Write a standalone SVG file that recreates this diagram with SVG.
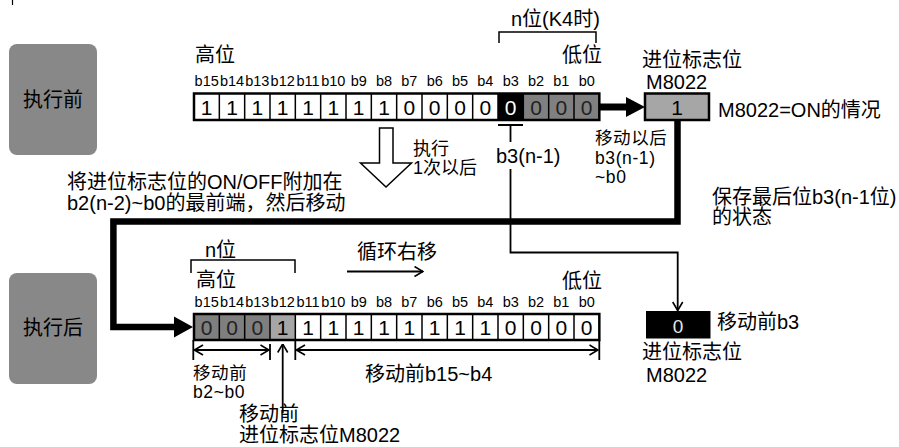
<svg xmlns="http://www.w3.org/2000/svg" width="899" height="447" viewBox="0 0 899 447">
<style>
.t{font-family:"Liberation Sans","Noto Sans CJK SC",sans-serif;font-size:20px;fill:#000}
.s{font-size:18px}
.k{font-size:17.5px;letter-spacing:0.6px}
.m{text-anchor:middle}
.b{font-family:"Liberation Sans",sans-serif;font-size:14.5px;text-anchor:middle;fill:#000}
.d{font-family:"Liberation Sans",sans-serif;font-size:21px;text-anchor:middle;fill:#000}
.reg{fill:none;stroke:#000;stroke-width:2.5}
.div{stroke:#000;stroke-width:1.5}
.thin{fill:none;stroke:#000;stroke-width:1.8}
.thick{fill:none;stroke:#000;stroke-width:6.5}
.state{fill:#888888}
</style>
<defs>
<marker id="oa" viewBox="0 0 10 12" refX="9.5" refY="6" markerWidth="10" markerHeight="12" markerUnits="userSpaceOnUse" orient="auto-start-reverse">
<path d="M1,1 L9.5,6 L1,11" fill="none" stroke="#000" stroke-width="1.6"/>
</marker>
</defs>
<line x1="12.5" y1="0" x2="12.5" y2="5" stroke="#000" stroke-width="1.2"/>

<g id="before-label">
<rect class="state" x="9" y="44" width="88" height="111" rx="8"/>
<text class="t m" x="53" y="107">执行前</text>
</g>
<g id="after-label">
<rect class="state" x="9" y="273" width="88" height="111" rx="8"/>
<text class="t m" x="53" y="335">执行后</text>
</g>

<g id="register-before">
<text class="t" x="511" y="26">n位(K4时)</text>
<path class="div" fill="none" stroke-width="2" d="M499,43 V32 H596 V43"/>
<text class="t" x="195" y="62">高位</text>
<text class="t" x="562" y="62">低位</text>
<g>
<text class="b" x="206.7" y="86">b15</text><text class="b" x="232" y="86">b14</text><text class="b" x="257.3" y="86">b13</text><text class="b" x="282.7" y="86">b12</text>
<text class="b" x="308" y="86">b11</text><text class="b" x="333.3" y="86">b10</text><text class="b" x="358.7" y="86">b9</text><text class="b" x="384" y="86">b8</text>
<text class="b" x="409.3" y="86">b7</text><text class="b" x="434.7" y="86">b6</text><text class="b" x="460" y="86">b5</text><text class="b" x="485.3" y="86">b4</text>
<text class="b" x="510.7" y="86">b3</text><text class="b" x="536" y="86">b2</text><text class="b" x="561.3" y="86">b1</text><text class="b" x="586.7" y="86">b0</text>
</g>
<rect x="498" y="93.5" width="25.33" height="26.5" fill="#000"/>
<rect x="523.33" y="93.5" width="76" height="26.5" fill="#808080"/>
<g class="div">
<line x1="219.33" y1="93.5" x2="219.33" y2="120"/><line x1="244.67" y1="93.5" x2="244.67" y2="120"/><line x1="270" y1="93.5" x2="270" y2="120"/><line x1="295.33" y1="93.5" x2="295.33" y2="120"/>
<line x1="320.67" y1="93.5" x2="320.67" y2="120"/><line x1="346" y1="93.5" x2="346" y2="120"/><line x1="371.33" y1="93.5" x2="371.33" y2="120"/><line x1="396.67" y1="93.5" x2="396.67" y2="120"/>
<line x1="422" y1="93.5" x2="422" y2="120"/><line x1="447.33" y1="93.5" x2="447.33" y2="120"/><line x1="472.67" y1="93.5" x2="472.67" y2="120"/><line x1="498" y1="93.5" x2="498" y2="120"/>
<line x1="523.33" y1="93.5" x2="523.33" y2="120"/><line x1="548.67" y1="93.5" x2="548.67" y2="120"/><line x1="574" y1="93.5" x2="574" y2="120"/>
</g>
<rect class="reg" x="194" y="93.5" width="405.33" height="26.5"/>
<g>
<text class="d" x="206.7" y="114.5">1</text><text class="d" x="232" y="114.5">1</text><text class="d" x="257.3" y="114.5">1</text><text class="d" x="282.7" y="114.5">1</text>
<text class="d" x="308" y="114.5">1</text><text class="d" x="333.3" y="114.5">1</text><text class="d" x="358.7" y="114.5">1</text><text class="d" x="384" y="114.5">1</text>
<text class="d" x="409.3" y="114.5">0</text><text class="d" x="434.7" y="114.5">0</text><text class="d" x="460" y="114.5">0</text><text class="d" x="485.3" y="114.5">0</text>
<text class="d" x="510.7" y="114.5" style="fill:#fff">0</text><text class="d" x="536" y="114.5" style="fill:#222">0</text><text class="d" x="561.3" y="114.5" style="fill:#222">0</text><text class="d" x="586.7" y="114.5" style="fill:#222">0</text>
</g>
</g>

<g id="carry-before">
<text class="t" x="642" y="67">进位标志位</text>
<text class="t" x="646" y="89">M8022</text>
<rect x="645" y="93.5" width="64" height="26.5" fill="#a6a6a6" stroke="#000" stroke-width="2.5"/>
<text class="d" x="677" y="114.5">1</text>
<text class="t" x="718" y="117">M8022=ON的情况</text>
</g>

<g id="notes">
<text class="t k" x="595" y="144">移动以后</text>
<text class="t k" x="595" y="164">b3(n-1)</text>
<text class="t k" x="595" y="183">~b0</text>
<text class="t" x="496" y="163">b3(n-1)</text>
<text class="t s" x="413" y="155">执行</text>
<text class="t s" x="413" y="174">1次以后</text>
<text class="t" x="67" y="189">将进位标志位的ON/OFF附加在</text>
<text class="t" x="67" y="210">b2(n-2)~b0的最前端，然后移动</text>
<text class="t" x="712" y="204">保存最后位b3(n-1位)</text>
<text class="t" x="712" y="224">的状态</text>
</g>

<g id="register-after">
<text class="t" x="205" y="257">n位</text>
<path class="div" fill="none" stroke-width="2" d="M191,273 V260 H295 V273"/>
<text class="t" x="357" y="259">循环右移</text>
<text class="t" x="196" y="287">高位</text>
<text class="t" x="562" y="288">低位</text>
<g>
<text class="b" x="206.7" y="307">b15</text><text class="b" x="232" y="307">b14</text><text class="b" x="257.3" y="307">b13</text><text class="b" x="282.7" y="307">b12</text>
<text class="b" x="308" y="307">b11</text><text class="b" x="333.3" y="307">b10</text><text class="b" x="358.7" y="307">b9</text><text class="b" x="384" y="307">b8</text>
<text class="b" x="409.3" y="307">b7</text><text class="b" x="434.7" y="307">b6</text><text class="b" x="460" y="307">b5</text><text class="b" x="485.3" y="307">b4</text>
<text class="b" x="510.7" y="307">b3</text><text class="b" x="536" y="307">b2</text><text class="b" x="561.3" y="307">b1</text><text class="b" x="586.7" y="307">b0</text>
</g>
<rect x="194" y="314" width="76" height="26" fill="#7f7f7f"/>
<rect x="270" y="314" width="25.33" height="26" fill="#a6a6a6"/>
<g class="div">
<line x1="219.33" y1="314" x2="219.33" y2="340"/><line x1="244.67" y1="314" x2="244.67" y2="340"/><line x1="270" y1="314" x2="270" y2="340"/><line x1="295.33" y1="314" x2="295.33" y2="340"/>
<line x1="320.67" y1="314" x2="320.67" y2="340"/><line x1="346" y1="314" x2="346" y2="340"/><line x1="371.33" y1="314" x2="371.33" y2="340"/><line x1="396.67" y1="314" x2="396.67" y2="340"/>
<line x1="422" y1="314" x2="422" y2="340"/><line x1="447.33" y1="314" x2="447.33" y2="340"/><line x1="472.67" y1="314" x2="472.67" y2="340"/><line x1="498" y1="314" x2="498" y2="340"/>
<line x1="523.33" y1="314" x2="523.33" y2="340"/><line x1="548.67" y1="314" x2="548.67" y2="340"/><line x1="574" y1="314" x2="574" y2="340"/>
</g>
<rect class="reg" x="194" y="314" width="405.33" height="26"/>
<g>
<text class="d" x="206.7" y="335" style="fill:#222">0</text><text class="d" x="232" y="335" style="fill:#222">0</text><text class="d" x="257.3" y="335" style="fill:#222">0</text><text class="d" x="282.7" y="335">1</text>
<text class="d" x="308" y="335">1</text><text class="d" x="333.3" y="335">1</text><text class="d" x="358.7" y="335">1</text><text class="d" x="384" y="335">1</text>
<text class="d" x="409.3" y="335">1</text><text class="d" x="434.7" y="335">1</text><text class="d" x="460" y="335">1</text><text class="d" x="485.3" y="335">1</text>
<text class="d" x="510.7" y="335">0</text><text class="d" x="536" y="335">0</text><text class="d" x="561.3" y="335">0</text><text class="d" x="586.7" y="335">0</text>
</g>
<text class="t k" x="193" y="379">移动前</text>
<text class="t k" x="193" y="398">b2~b0</text>
<text class="t" x="365" y="381">移动前b15~b4</text>
<text class="t" x="239" y="421">移动前</text>
<text class="t" x="239" y="442">进位标志位M8022</text>
</g>

<g id="carry-after">
<rect x="646" y="311" width="64.5" height="27.5" fill="#000"/>
<text class="d" x="678" y="333" style="fill:#e6e6e6;font-size:19px">0</text>
<text class="t" x="717" y="329">移动前b3</text>
<text class="t" x="642" y="359">进位标志位</text>
<text class="t" x="646" y="382">M8022</text>
</g>

<g id="connectors">
<path d="M599.5,107 H628" stroke="#000" stroke-width="7" fill="none"/>
<polygon points="626,97 645,107 626,117" fill="#000"/>
<path class="thick" d="M677.5,120 V221.5 H113.4 V327 H176"/>
<polygon points="174,316.5 193,327 174,337.5" fill="#000"/>
<polygon points="379.5,128 393,128 393,163 411.5,163 386,187 360.5,163 379.5,163" fill="#fff" stroke="#000" stroke-width="1.5"/>
<path class="thin" d="M498,125 H523 M510.5,125 V142"/>
<path class="thin" d="M510.5,169 V252.5 H677.7 V310.5" marker-end="url(#oa)"/>
<path class="thin" d="M347,271.5 H423" marker-end="url(#oa)"/>
<path class="thin" d="M193.3,340 V360 M270,344 V360 M295.3,340 V360 M599.3,340 V360"/>
<path class="thin" d="M194.5,350 H269" marker-start="url(#oa)" marker-end="url(#oa)"/>
<path class="thin" d="M296.5,350 H598" marker-start="url(#oa)" marker-end="url(#oa)"/>
<path class="thin" d="M282.7,413 V344" marker-end="url(#oa)"/>
</g>
</svg>
